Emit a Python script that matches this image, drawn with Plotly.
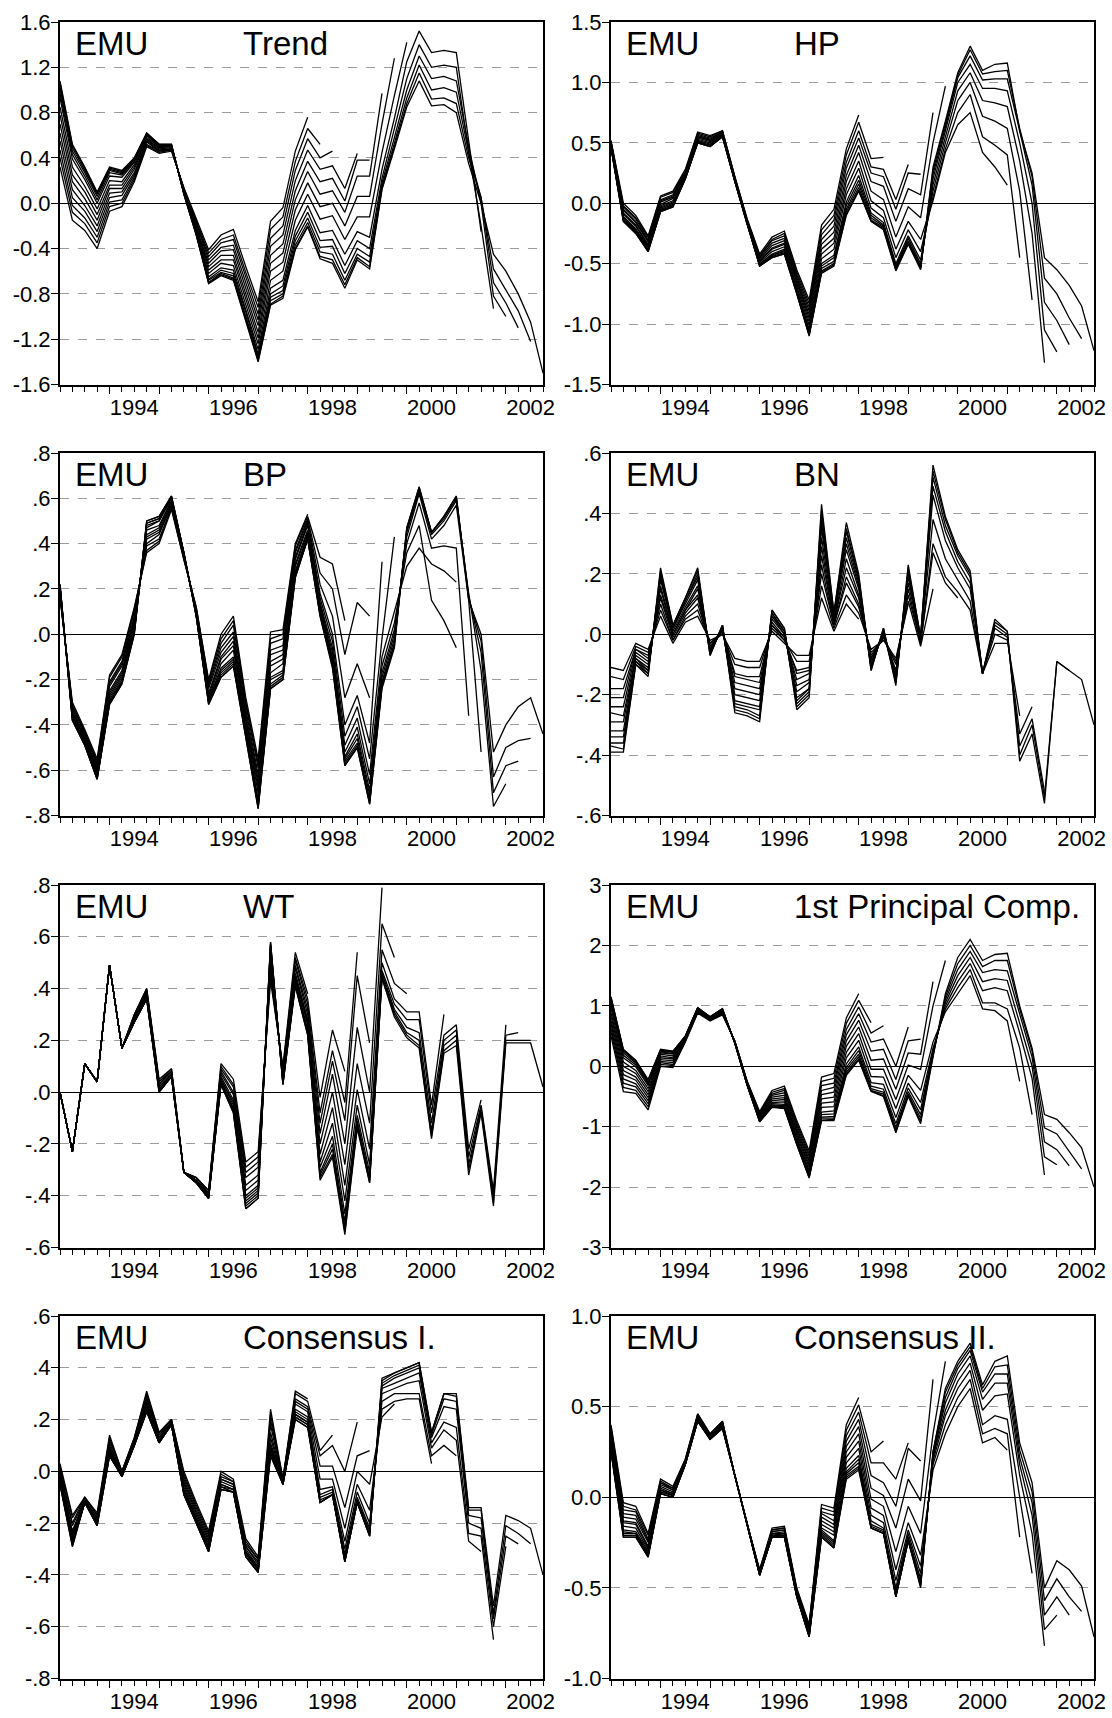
import plotly.graph_objects as go

# ---------------- data ----------------
QUARTERS = [f"{y}Q{q}" for y in range(1993, 2003) for q in range(1, 5)]
YEAR_LABELS = ["1994", "1996", "1998", "2000", "2002"]
YEAR_STARTS = [f"{y}Q1" for y in range(1994, 2003)]

# each inner list = one real-time vintage, starting 1993Q1
TREND = [
    [.32,-.15,-.24,-.40,-.07,-.03,.19,.50,.44,.46,.14,-.14,-.41,-.28,-.23,-.56,-.87,-.16,-.04,.46,.76],
    [.40,-.08,-.18,-.35,-.03,.00,.21,.51,.45,.47,.13,-.15,-.44,-.32,-.28,-.61,-.92,-.23,-.12,.37,.66,.52],
    [.47,-.02,-.13,-.30,.01,.03,.23,.52,.46,.47,.13,-.17,-.47,-.35,-.32,-.65,-.98,-.31,-.20,.29,.57,.40,.46],
    [.55,.05,-.07,-.25,.05,.07,.25,.54,.46,.48,.12,-.18,-.50,-.39,-.37,-.70,-1.03,-.38,-.28,.20,.47,.30,.33,.13,.44],
    [.62,.12,-.02,-.20,.09,.10,.27,.55,.47,.48,.12,-.20,-.53,-.42,-.41,-.75,-1.08,-.46,-.36,.11,.37,.19,.22,.02,.38,.38],
    [.70,.19,.04,-.15,.13,.13,.30,.56,.48,.49,.11,-.21,-.56,-.46,-.46,-.80,-1.14,-.53,-.44,.03,.28,.08,.11,-.08,.24,.24,.97],
    [.78,.25,.10,-.10,.16,.16,.32,.57,.49,.50,.10,-.22,-.59,-.50,-.50,-.84,-1.19,-.60,-.52,-.06,.18,-.03,.00,-.20,.06,.06,.70,1.28],
    [.85,.32,.15,-.05,.20,.19,.34,.58,.50,.50,.10,-.24,-.62,-.53,-.55,-.89,-1.24,-.68,-.60,-.15,.08,-.14,-.11,-.32,-.12,-.12,.45,.95,1.42],
    [.93,.39,.21,.00,.24,.23,.36,.60,.50,.51,.09,-.25,-.65,-.57,-.59,-.94,-1.29,-.75,-.68,-.24,-.02,-.26,-.24,-.45,-.25,-.30,.30,.75,1.25,1.52,1.33,1.35,1.33,.55,-.25],
    [.97,.43,.24,.03,.27,.25,.37,.60,.51,.51,.09,-.26,-.67,-.59,-.62,-.96,-1.33,-.80,-.73,-.29,-.08,-.33,-.32,-.55,-.33,-.40,.22,.65,1.10,1.40,1.20,1.22,1.20,.45,-.20,-.93],
    [1.01,.46,.27,.06,.29,.26,.38,.61,.51,.51,.09,-.27,-.68,-.61,-.64,-.99,-1.35,-.83,-.77,-.33,-.13,-.39,-.38,-.62,-.40,-.47,.18,.58,1.00,1.30,1.10,1.12,1.08,.50,.00,-.82,-1.00],
    [1.04,.49,.29,.08,.30,.27,.39,.61,.52,.52,.08,-.27,-.70,-.62,-.66,-1.01,-1.37,-.86,-.80,-.37,-.17,-.43,-.45,-.68,-.45,-.52,.15,.53,.93,1.22,1.00,1.02,.98,.45,.05,-.70,-.88,-1.10],
    [1.06,.51,.31,.09,.31,.28,.40,.62,.52,.52,.08,-.28,-.70,-.63,-.67,-1.02,-1.39,-.89,-.82,-.40,-.20,-.47,-.50,-.72,-.48,-.56,.13,.50,.88,1.15,.92,.93,.88,.40,.05,-.58,-.77,-.95,-1.22],
    [1.08,.52,.32,.10,.32,.29,.40,.62,.52,.52,.08,-.28,-.71,-.64,-.68,-1.03,-1.40,-.90,-.84,-.41,-.21,-.49,-.53,-.75,-.50,-.58,.12,.48,.85,1.08,.86,.87,.80,.35,.00,-.45,-.60,-.80,-1.05,-1.50],
]

HP = [
    [.52,.00,-.10,-.27,.06,.10,.28,.59,.56,.60,.22,-.13,-.42,-.28,-.23,-.55,-.80,-.18,-.05,.45,.73],
    [.51,-.02,-.12,-.28,.05,.09,.27,.58,.55,.60,.22,-.14,-.43,-.30,-.25,-.57,-.83,-.22,-.10,.40,.67,.37,.38],
    [.51,-.03,-.13,-.30,.03,.07,.26,.57,.54,.59,.21,-.14,-.44,-.31,-.27,-.59,-.86,-.26,-.14,.34,.60,.30,.28,.03,.32],
    [.50,-.05,-.15,-.31,.02,.06,.26,.56,.53,.59,.21,-.15,-.45,-.33,-.29,-.61,-.89,-.30,-.19,.29,.54,.25,.22,-.05,.25,.24],
    [.50,-.06,-.16,-.32,.01,.05,.25,.55,.52,.58,.20,-.15,-.46,-.35,-.31,-.63,-.92,-.34,-.24,.23,.48,.18,.14,-.15,.12,.07,.75],
    [.49,-.08,-.18,-.34,-.01,.04,.24,.55,.52,.58,.20,-.16,-.47,-.37,-.33,-.65,-.95,-.38,-.29,.18,.42,.10,.03,-.28,-.03,-.12,.50,.97],
    [.48,-.09,-.19,-.35,-.02,.02,.23,.54,.51,.57,.20,-.16,-.48,-.38,-.34,-.67,-.98,-.42,-.33,.12,.35,.02,-.06,-.38,-.15,-.30,.02,.42,.65,.75,.42,.30,.15],
    [.48,-.11,-.21,-.36,-.03,.01,.22,.53,.50,.57,.19,-.17,-.49,-.40,-.36,-.69,-1.01,-.46,-.38,.07,.29,-.04,-.12,-.45,-.22,-.40,.05,.45,.75,.90,.55,.48,.40,-.45],
    [.47,-.12,-.22,-.37,-.04,.00,.22,.52,.49,.56,.19,-.17,-.50,-.42,-.38,-.71,-1.04,-.50,-.43,.01,.23,-.08,-.16,-.50,-.27,-.47,.10,.50,.85,1.00,.72,.68,.62,.10,-.80],
    [.47,-.13,-.23,-.38,-.05,-.01,.21,.51,.48,.56,.19,-.17,-.51,-.43,-.39,-.72,-1.06,-.52,-.45,-.02,.19,-.10,-.18,-.52,-.29,-.50,.15,.55,.93,1.08,.85,.83,.80,.35,-.25,-1.32],
    [.47,-.14,-.24,-.39,-.06,-.02,.21,.51,.48,.56,.18,-.18,-.51,-.43,-.40,-.73,-1.07,-.54,-.48,-.05,.16,-.12,-.19,-.53,-.31,-.52,.20,.60,1.00,1.15,.95,.95,.93,.50,.00,-1.05,-1.23],
    [.46,-.14,-.24,-.39,-.06,-.02,.20,.50,.47,.55,.18,-.18,-.52,-.44,-.41,-.74,-1.09,-.56,-.50,-.07,.13,-.14,-.20,-.54,-.32,-.53,.24,.63,1.04,1.22,1.02,1.03,1.03,.60,.15,-.82,-.97,-1.17],
    [.46,-.15,-.25,-.40,-.07,-.03,.20,.50,.47,.55,.18,-.18,-.52,-.45,-.42,-.75,-1.09,-.57,-.51,-.09,.11,-.15,-.21,-.55,-.33,-.54,.27,.66,1.06,1.27,1.07,1.09,1.10,.62,.22,-.62,-.75,-.95,-1.12],
    [.46,-.15,-.25,-.40,-.07,-.03,.20,.50,.47,.55,.18,-.18,-.52,-.45,-.42,-.75,-1.10,-.58,-.52,-.10,.10,-.15,-.22,-.56,-.34,-.55,.30,.68,1.08,1.30,1.10,1.15,1.16,.60,.25,-.45,-.55,-.68,-.85,-1.22],
]

BP = [
    [.16,-.30,-.42,-.55,-.18,-.09,.12,.36,.40,.55,.33,.12,-.20,.00,.08,-.28,-.55,.01,.02,.40,.53],
    [.17,-.31,-.43,-.56,-.19,-.10,.11,.37,.41,.56,.33,.12,-.21,-.02,.06,-.30,-.57,-.02,.00,.39,.52,.34,.31,.06],
    [.17,-.32,-.43,-.57,-.21,-.12,.10,.39,.42,.56,.34,.11,-.22,-.04,.04,-.31,-.59,-.04,-.02,.37,.51,.27,.20,-.09,.14,.08],
    [.18,-.32,-.44,-.58,-.22,-.13,.08,.40,.44,.57,.34,.11,-.23,-.06,.01,-.33,-.62,-.07,-.05,.36,.50,.22,.08,-.28,-.13,-.28],
    [.18,-.33,-.45,-.59,-.23,-.14,.07,.42,.45,.57,.34,.10,-.24,-.08,-.01,-.35,-.64,-.09,-.07,.34,.49,.18,.00,-.40,-.27,-.48,.32],
    [.19,-.34,-.46,-.60,-.25,-.16,.06,.43,.46,.58,.35,.10,-.26,-.10,-.03,-.37,-.66,-.12,-.09,.33,.48,.16,-.03,-.45,-.32,-.55,-.02,.43],
    [.20,-.35,-.46,-.60,-.26,-.17,.05,.44,.47,.59,.35,.10,-.27,-.11,-.05,-.38,-.68,-.14,-.11,.31,.46,.14,-.06,-.49,-.37,-.62,-.10,.10,.30,.38,.31,.28,.23],
    [.20,-.36,-.47,-.61,-.27,-.18,.04,.46,.48,.59,.35,.09,-.28,-.13,-.07,-.40,-.70,-.17,-.13,.30,.45,.13,-.08,-.52,-.41,-.66,-.14,.05,.36,.48,.15,.06,-.06],
    [.21,-.36,-.48,-.62,-.28,-.19,.02,.47,.50,.60,.35,.09,-.29,-.15,-.10,-.42,-.73,-.19,-.16,.28,.44,.12,-.10,-.54,-.44,-.69,-.17,.02,.40,.58,.38,.39,.38,-.36],
    [.21,-.37,-.48,-.63,-.29,-.20,.02,.48,.50,.60,.36,.09,-.29,-.16,-.11,-.43,-.74,-.20,-.17,.27,.43,.11,-.11,-.55,-.46,-.71,-.19,.00,.43,.62,.42,.48,.57,.15,-.52],
    [.21,-.37,-.48,-.63,-.30,-.21,.01,.49,.51,.60,.36,.08,-.30,-.17,-.12,-.43,-.75,-.22,-.18,.26,.43,.10,-.12,-.56,-.48,-.73,-.21,-.02,.45,.63,.44,.50,.59,.18,-.16,-.76,-.66],
    [.22,-.38,-.49,-.64,-.30,-.21,.01,.49,.51,.61,.36,.08,-.30,-.18,-.13,-.44,-.76,-.23,-.19,.26,.42,.09,-.13,-.57,-.49,-.74,-.22,-.04,.46,.64,.45,.51,.60,.17,-.08,-.70,-.58,-.56],
    [.22,-.38,-.49,-.64,-.31,-.22,.00,.50,.52,.61,.36,.08,-.31,-.19,-.14,-.45,-.77,-.24,-.20,.25,.42,.08,-.14,-.58,-.50,-.75,-.23,-.05,.47,.65,.45,.52,.61,.16,-.03,-.63,-.50,-.47,-.46],
    [.22,-.38,-.49,-.64,-.31,-.22,.00,.50,.52,.61,.36,.08,-.31,-.19,-.14,-.45,-.77,-.24,-.20,.25,.42,.08,-.15,-.58,-.50,-.75,-.24,-.06,.47,.65,.45,.52,.61,.15,.00,-.52,-.40,-.32,-.28,-.44],
]

BN = [
    [-.11,-.12,-.03,-.05,.06,-.03,.04,.06,-.02,.00,-.08,-.09,-.09,.01,-.03,-.07,-.07,.12,.01,.10,.05],
    [-.14,-.15,-.04,-.06,.08,-.02,.05,.08,-.03,.00,-.10,-.11,-.11,.02,-.02,-.09,-.09,.16,.02,.13,.07,-.05,-.02],
    [-.18,-.18,-.05,-.07,.10,-.02,.06,.10,-.03,.01,-.13,-.14,-.14,.03,-.02,-.12,-.11,.20,.03,.17,.09,-.06,-.02,-.08,.10],
    [-.21,-.21,-.05,-.08,.12,-.01,.07,.12,-.04,.01,-.14,-.15,-.16,.03,-.01,-.13,-.12,.23,.03,.19,.10,-.07,-.01,-.09,.11,-.04,.15],
    [-.24,-.24,-.06,-.09,.13,.00,.08,.13,-.04,.01,-.16,-.17,-.18,.04,-.01,-.15,-.13,.26,.04,.22,.12,-.08,-.01,-.10,.13,-.03,.27,.17,.12],
    [-.26,-.27,-.07,-.10,.15,.00,.08,.15,-.05,.02,-.18,-.19,-.20,.05,.00,-.17,-.15,.29,.04,.25,.13,-.08,.00,-.12,.15,-.03,.30,.19,.14,.08,-.13],
    [-.29,-.29,-.08,-.11,.16,.01,.09,.16,-.05,.02,-.20,-.21,-.22,.06,.00,-.19,-.16,.32,.05,.28,.15,-.09,.00,-.13,.17,-.02,.38,.25,.18,.11,-.13,-.03,-.03],
    [-.32,-.32,-.08,-.12,.18,.02,.10,.18,-.06,.02,-.22,-.23,-.24,.06,.01,-.21,-.18,.35,.06,.30,.16,-.10,.01,-.14,.19,-.02,.46,.31,.22,.15,-.13,.00,-.02,-.27],
    [-.34,-.34,-.09,-.12,.19,.02,.11,.19,-.06,.02,-.23,-.24,-.25,.07,.01,-.22,-.18,.37,.06,.32,.17,-.11,.01,-.15,.20,-.02,.49,.34,.24,.17,-.13,.02,-.01,-.33,-.24],
    [-.36,-.36,-.09,-.13,.20,.02,.11,.20,-.06,.03,-.24,-.25,-.27,.07,.01,-.23,-.19,.39,.06,.34,.18,-.11,.01,-.16,.21,-.01,.52,.36,.26,.19,-.13,.03,.00,-.37,-.28,-.52],
    [-.37,-.38,-.10,-.13,.21,.03,.12,.21,-.07,.03,-.25,-.26,-.28,.08,.02,-.24,-.20,.41,.07,.35,.19,-.12,.02,-.16,.22,-.01,.54,.38,.27,.20,-.13,.04,.01,-.40,-.30,-.54,-.09,-.12],
    [-.39,-.39,-.10,-.14,.22,.03,.12,.22,-.07,.03,-.26,-.27,-.29,.08,.02,-.25,-.21,.43,.07,.37,.20,-.12,.02,-.17,.23,-.01,.56,.39,.28,.21,-.13,.05,.01,-.42,-.33,-.56,-.09,-.12,-.15,-.30],
]

WT = [
    [.00,-.23,.11,.04,.49,.17,.30,.40,.05,.09,-.31,-.33,-.38,.11,.05,-.27,-.23,.43,.10,.54,.38],
    [.00,-.23,.11,.04,.49,.17,.30,.40,.04,.09,-.31,-.33,-.38,.10,.03,-.29,-.25,.45,.09,.52,.36,-.02,.24,.08],
    [.00,-.23,.11,.04,.49,.17,.29,.39,.04,.08,-.31,-.33,-.39,.09,.02,-.31,-.27,.47,.08,.51,.34,-.08,.16,-.04,.54],
    [.00,-.23,.11,.04,.49,.17,.29,.39,.03,.08,-.31,-.34,-.39,.08,.00,-.33,-.29,.48,.08,.49,.32,-.12,.12,-.11,.45,.19],
    [.00,-.23,.11,.04,.49,.17,.29,.38,.03,.08,-.31,-.34,-.39,.07,-.01,-.36,-.32,.50,.07,.48,.30,-.16,.07,-.20,.25,.00,.79],
    [.00,-.23,.11,.04,.49,.17,.28,.38,.02,.07,-.31,-.34,-.40,.06,-.03,-.38,-.34,.52,.06,.46,.28,-.20,.00,-.28,.11,-.12,.65,.52],
    [.00,-.23,.11,.04,.49,.17,.28,.37,.02,.07,-.31,-.34,-.40,.05,-.04,-.40,-.36,.54,.05,.45,.27,-.24,-.06,-.36,.01,-.22,.55,.42,.38],
    [.00,-.23,.11,.04,.49,.17,.28,.37,.01,.07,-.31,-.35,-.40,.05,-.05,-.41,-.37,.55,.05,.44,.26,-.27,-.12,-.42,-.05,-.28,.50,.36,.31,.31,-.05,.30],
    [.00,-.23,.11,.04,.49,.17,.27,.37,.01,.06,-.31,-.35,-.41,.04,-.06,-.42,-.38,.56,.04,.43,.24,-.29,-.17,-.47,-.09,-.31,.47,.34,.28,.28,-.08,.22,.26,-.22,-.03],
    [.00,-.23,.11,.04,.49,.17,.27,.36,.01,.06,-.31,-.35,-.41,.04,-.07,-.43,-.39,.57,.04,.42,.24,-.31,-.20,-.50,-.11,-.33,.46,.32,.25,.23,-.12,.20,.24,-.25,-.05,-.38,.26],
    [.00,-.23,.11,.04,.49,.17,.27,.36,.00,.06,-.31,-.35,-.41,.03,-.07,-.44,-.40,.57,.03,.42,.23,-.32,-.22,-.52,-.12,-.34,.45,.31,.23,.20,-.15,.18,.22,-.28,-.06,-.40,.22,.23],
    [.00,-.23,.11,.04,.49,.17,.27,.36,.00,.06,-.31,-.35,-.41,.03,-.08,-.45,-.41,.58,.03,.41,.22,-.33,-.24,-.54,-.13,-.35,.44,.30,.22,.18,-.17,.16,.20,-.30,-.07,-.42,.20,.20,.20],
    [.00,-.23,.11,.04,.49,.17,.27,.36,.00,.06,-.31,-.35,-.41,.03,-.08,-.45,-.41,.58,.03,.41,.22,-.34,-.25,-.55,-.14,-.35,.44,.29,.21,.17,-.18,.15,.18,-.32,-.08,-.44,.19,.19,.19,.02],
]

PC = [
    [.50,-.42,-.45,-.72,.00,-.02,.40,.88,.75,.85,.42,-.25,-.75,-.40,-.33,-.90,-1.40,-.18,-.12,.80,1.20],
    [.57,-.35,-.40,-.67,.03,.01,.41,.89,.76,.86,.42,-.26,-.77,-.43,-.37,-.94,-1.45,-.25,-.20,.71,1.09,.72],
    [.63,-.28,-.34,-.62,.06,.03,.42,.90,.76,.87,.41,-.26,-.78,-.46,-.40,-.98,-1.49,-.32,-.28,.61,.98,.55,.67],
    [.70,-.21,-.29,-.57,.08,.06,.43,.91,.77,.88,.41,-.27,-.80,-.48,-.44,-1.02,-1.54,-.40,-.35,.52,.87,.40,.45,.00,.65],
    [.76,-.14,-.23,-.52,.11,.09,.44,.92,.78,.89,.40,-.28,-.82,-.51,-.48,-1.06,-1.58,-.47,-.43,.42,.76,.25,.28,-.22,.42,.45],
    [.83,-.07,-.18,-.47,.14,.12,.45,.93,.79,.90,.40,-.29,-.84,-.54,-.52,-1.10,-1.63,-.54,-.51,.33,.65,.10,.12,-.38,.22,.20,1.40],
    [.89,.00,-.12,-.42,.17,.14,.46,.93,.79,.91,.40,-.29,-.85,-.57,-.55,-1.14,-1.67,-.61,-.59,.23,.54,-.05,-.05,-.55,.02,-.05,1.00,1.75],
    [.96,.07,-.07,-.37,.20,.17,.47,.94,.80,.92,.39,-.30,-.87,-.60,-.59,-1.18,-1.72,-.68,-.67,.14,.43,-.17,-.18,-.70,-.15,-.40,.40,.90,1.20,1.50,.95,.92,.75,-.25],
    [1.02,.14,-.01,-.32,.22,.20,.48,.95,.81,.93,.39,-.31,-.89,-.62,-.63,-1.22,-1.76,-.76,-.74,.04,.32,-.27,-.30,-.85,-.28,-.60,.30,.95,1.30,1.60,1.05,1.05,.95,.30,-.80],
    [1.06,.18,.02,-.29,.24,.21,.49,.96,.81,.94,.39,-.31,-.90,-.64,-.65,-1.24,-1.79,-.80,-.79,-.02,.26,-.33,-.38,-.95,-.36,-.72,.25,1.00,1.40,1.70,1.25,1.30,1.25,.55,-.20,-1.80],
    [1.09,.22,.05,-.27,.25,.23,.49,.96,.81,.94,.38,-.31,-.90,-.65,-.67,-1.26,-1.81,-.84,-.83,-.06,.20,-.37,-.43,-1.01,-.42,-.80,.22,1.05,1.50,1.80,1.40,1.45,1.42,.70,.00,-1.50,-1.63],
    [1.12,.25,.07,-.25,.27,.24,.50,.97,.82,.95,.38,-.32,-.91,-.67,-.68,-1.28,-1.83,-.86,-.86,-.10,.16,-.40,-.46,-1.05,-.46,-.86,.20,1.10,1.60,1.90,1.55,1.60,1.58,.85,.15,-1.25,-1.38,-1.65],
    [1.14,.27,.09,-.23,.27,.24,.50,.97,.82,.95,.38,-.32,-.92,-.67,-.69,-1.29,-1.84,-.89,-.88,-.13,.12,-.41,-.49,-1.08,-.48,-.91,.17,1.15,1.70,2.00,1.65,1.75,1.75,.95,.25,-1.02,-1.12,-1.40,-1.70],
    [1.15,.28,.10,-.22,.28,.25,.50,.97,.82,.95,.38,-.32,-.92,-.68,-.70,-1.30,-1.85,-.90,-.90,-.15,.10,-.42,-.50,-1.10,-.50,-.95,.15,1.20,1.80,2.10,1.75,1.85,1.87,1.00,.30,-.80,-.88,-1.10,-1.35,-2.00],
]

CONS1 = [
    [.03,-.17,-.10,-.16,.14,.00,.13,.31,.15,.20,.00,-.12,-.23,.00,-.03,-.26,-.33,.24,-.03,.31,.28],
    [.02,-.18,-.10,-.17,.13,.00,.13,.30,.15,.20,-.01,-.13,-.24,-.01,-.04,-.27,-.34,.22,-.03,.30,.27,.08,.14],
    [.01,-.20,-.10,-.17,.12,.00,.12,.29,.14,.20,-.02,-.14,-.25,-.02,-.04,-.28,-.34,.20,-.03,.28,.25,.06,.10,.00,.19],
    [.00,-.21,-.11,-.18,.11,-.01,.12,.28,.14,.19,-.03,-.15,-.26,-.03,-.05,-.29,-.35,.18,-.04,.27,.24,.02,.02,-.14,.06,.08],
    [-.01,-.23,-.11,-.18,.10,-.01,.12,.27,.13,.19,-.04,-.16,-.27,-.03,-.05,-.29,-.36,.15,-.04,.26,.23,-.03,-.03,-.22,.00,-.05,.21,.26],
    [-.02,-.24,-.11,-.19,.09,-.01,.11,.26,.13,.19,-.05,-.17,-.28,-.04,-.06,-.30,-.37,.13,-.04,.24,.21,-.07,-.06,-.27,-.05,-.15,.24,.27,.28,.28,.03],
    [-.03,-.25,-.11,-.19,.08,-.01,.11,.25,.12,.19,-.06,-.18,-.29,-.05,-.07,-.31,-.37,.11,-.04,.23,.20,-.09,-.07,-.30,-.08,-.20,.27,.30,.30,.30,.06,.10,.06],
    [-.03,-.26,-.12,-.20,.08,-.02,.11,.25,.12,.18,-.07,-.18,-.29,-.05,-.07,-.31,-.38,.10,-.05,.22,.19,-.10,-.08,-.32,-.10,-.22,.30,.32,.34,.35,.09,.16,.12,-.27,-.31],
    [-.04,-.27,-.12,-.20,.07,-.02,.10,.24,.12,.18,-.08,-.19,-.30,-.06,-.07,-.32,-.38,.09,-.05,.22,.19,-.11,-.09,-.33,-.11,-.23,.32,.34,.36,.38,.11,.19,.17,-.24,-.25,-.65],
    [-.04,-.28,-.12,-.20,.07,-.02,.10,.24,.11,.18,-.08,-.19,-.30,-.06,-.08,-.32,-.38,.08,-.05,.21,.18,-.12,-.09,-.34,-.12,-.24,.33,.36,.38,.40,.13,.25,.24,-.20,-.22,-.60,-.29],
    [-.05,-.28,-.12,-.21,.06,-.02,.10,.23,.11,.18,-.09,-.20,-.31,-.07,-.08,-.33,-.39,.07,-.05,.21,.18,-.12,-.09,-.35,-.12,-.25,.34,.37,.39,.41,.14,.28,.27,-.17,-.18,-.57,-.25,-.28],
    [-.05,-.29,-.12,-.21,.06,-.02,.10,.23,.11,.18,-.09,-.20,-.31,-.07,-.08,-.33,-.39,.06,-.05,.20,.17,-.12,-.09,-.35,-.12,-.25,.35,.38,.40,.42,.15,.30,.29,-.15,-.15,-.55,-.21,-.24,-.28],
    [-.05,-.29,-.12,-.21,.06,-.02,.10,.23,.11,.18,-.09,-.20,-.31,-.07,-.08,-.33,-.39,.06,-.05,.20,.17,-.12,-.09,-.35,-.12,-.25,.36,.38,.40,.42,.15,.30,.30,-.14,-.14,-.52,-.17,-.19,-.22,-.40],
]

CONS2 = [
    [.40,-.03,-.05,-.20,.10,.06,.21,.46,.35,.42,.12,-.15,-.40,-.17,-.16,-.50,-.70,-.04,-.06,.40,.55],
    [.39,-.05,-.07,-.21,.09,.05,.21,.46,.35,.42,.12,-.15,-.40,-.18,-.17,-.51,-.71,-.06,-.08,.37,.51,.25,.31],
    [.37,-.07,-.08,-.23,.08,.05,.20,.45,.34,.41,.12,-.15,-.41,-.18,-.17,-.51,-.71,-.08,-.10,.34,.47,.19,.19,.10,.30],
    [.36,-.09,-.10,-.24,.08,.04,.20,.45,.34,.41,.12,-.15,-.41,-.19,-.18,-.52,-.72,-.09,-.13,.31,.43,.12,.08,-.05,.27,.20],
    [.34,-.11,-.12,-.25,.07,.04,.20,.44,.34,.40,.12,-.15,-.41,-.19,-.18,-.52,-.73,-.11,-.15,.28,.39,.05,.01,-.17,.10,-.02,.65],
    [.33,-.13,-.14,-.27,.06,.03,.20,.44,.34,.40,.12,-.15,-.42,-.20,-.19,-.53,-.74,-.13,-.17,.25,.35,-.01,-.05,-.30,-.05,-.20,.35,.75],
    [.31,-.14,-.15,-.28,.05,.02,.19,.44,.33,.40,.12,-.15,-.42,-.20,-.20,-.53,-.74,-.15,-.19,.22,.31,-.06,-.10,-.40,-.14,-.32,.15,.35,.50,.60,.30,.33,.26],
    [.30,-.16,-.17,-.29,.04,.02,.19,.43,.33,.39,.12,-.15,-.42,-.21,-.20,-.54,-.75,-.17,-.21,.19,.27,-.10,-.14,-.46,-.18,-.38,.18,.40,.55,.65,.35,.38,.35,-.22],
    [.28,-.18,-.19,-.30,.04,.01,.19,.43,.33,.39,.12,-.15,-.42,-.21,-.21,-.54,-.76,-.18,-.24,.16,.23,-.13,-.17,-.50,-.20,-.42,.20,.45,.60,.70,.40,.45,.43,.00,-.42],
    [.27,-.19,-.20,-.31,.03,.01,.18,.43,.32,.39,.12,-.15,-.43,-.21,-.21,-.54,-.76,-.19,-.25,.14,.21,-.15,-.18,-.52,-.22,-.45,.22,.48,.64,.74,.48,.56,.57,.12,-.20,-.82],
    [.26,-.20,-.20,-.32,.03,.01,.18,.42,.32,.38,.12,-.15,-.43,-.22,-.21,-.55,-.76,-.20,-.26,.13,.19,-.16,-.19,-.54,-.23,-.47,.23,.52,.68,.78,.54,.63,.63,.18,-.10,-.73,-.65],
    [.26,-.21,-.21,-.32,.02,.00,.18,.42,.32,.38,.12,-.15,-.43,-.22,-.22,-.55,-.77,-.21,-.27,.12,.17,-.17,-.20,-.55,-.24,-.48,.24,.55,.71,.81,.58,.68,.68,.22,-.03,-.65,-.55,-.65],
    [.25,-.22,-.22,-.33,.02,.00,.18,.42,.32,.38,.12,-.15,-.43,-.22,-.22,-.55,-.77,-.22,-.28,.11,.16,-.17,-.20,-.55,-.24,-.49,.25,.58,.73,.83,.60,.72,.73,.26,.03,-.57,-.45,-.55,-.63],
    [.25,-.22,-.22,-.33,.02,.00,.18,.42,.32,.38,.12,-.15,-.43,-.22,-.22,-.55,-.77,-.22,-.28,.10,.15,-.17,-.20,-.55,-.24,-.50,.25,.60,.75,.85,.62,.75,.78,.30,.08,-.50,-.35,-.40,-.49,-.77],
]

TREND_YT = [-1.6, -1.2, -0.8, -0.4, 0.0, 0.4, 0.8, 1.2, 1.6]
TREND_YL = ["-1.6", "-1.2", "-0.8", "-0.4", "0.0", "0.4", "0.8", "1.2", "1.6"]
HP_YT = [-1.5, -1.0, -0.5, 0.0, 0.5, 1.0, 1.5]
HP_YL = ["-1.5", "-1.0", "-0.5", "0.0", "0.5", "1.0", "1.5"]
BP_YT = [-0.8, -0.6, -0.4, -0.2, 0.0, 0.2, 0.4, 0.6, 0.8]
BP_YL = ["-.8", "-.6", "-.4", "-.2", ".0", ".2", ".4", ".6", ".8"]
BN_YT = [-0.6, -0.4, -0.2, 0.0, 0.2, 0.4, 0.6]
BN_YL = ["-.6", "-.4", "-.2", ".0", ".2", ".4", ".6"]
WT_YT = [-0.6, -0.4, -0.2, 0.0, 0.2, 0.4, 0.6, 0.8]
WT_YL = ["-.6", "-.4", "-.2", ".0", ".2", ".4", ".6", ".8"]
PC_YT = [-3, -2, -1, 0, 1, 2, 3]
PC_YL = ["-3", "-2", "-1", "0", "1", "2", "3"]
C1_YT = [-0.8, -0.6, -0.4, -0.2, 0.0, 0.2, 0.4, 0.6]
C1_YL = ["-.8", "-.6", "-.4", "-.2", ".0", ".2", ".4", ".6"]
C2_YT = [-1.0, -0.5, 0.0, 0.5, 1.0]
C2_YL = ["-1.0", "-0.5", "0.0", "0.5", "1.0"]

PANELS = [
    ("Trend", TREND, TREND_YT, TREND_YL),
    ("HP", HP, HP_YT, HP_YL),
    ("BP", BP, BP_YT, BP_YL),
    ("BN", BN, BN_YT, BN_YL),
    ("WT", WT, WT_YT, WT_YL),
    ("1st Principal Comp.", PC, PC_YT, PC_YL),
    ("Consensus I.", CONS1, C1_YT, C1_YL),
    ("Consensus II.", CONS2, C2_YT, C2_YL),
]

# ---------------- layout geometry ----------------
W, H = 1112, 1718
XDOM = [[60 / W, 543 / W], [611 / W, 1094 / W]]
ROW_TOP = [22, 453, 885, 1316]
PANEL_H = 362.5
YDOM = [[1 - (t + PANEL_H) / H, 1 - t / H] for t in ROW_TOP]
FONT = "Liberation Sans, Arial, Helvetica, sans-serif"
TICK_SIZE = 22

label_quarters = {f"{y}Q3": y for y in YEAR_LABELS}
x_ticktext = [label_quarters.get(q, "") for q in QUARTERS]
year_pos = [QUARTERS.index(q) for q in YEAR_STARTS]
last = len(QUARTERS) - 1


def ax_id(letter, n):
    return letter if n == 1 else f"{letter}{n}"


def ax_key(letter, n):
    return f"{letter}axis" if n == 1 else f"{letter}axis{n}"


fig = go.Figure()
layout = dict(
    width=W, height=H, autosize=False,
    margin=dict(l=0, r=0, t=0, b=0, pad=0),
    template="none",
    paper_bgcolor="white", plot_bgcolor="white",
    showlegend=False, hovermode=False,
    font=dict(family=FONT, size=TICK_SIZE, color="black"),
)
annotations = []

for p, (name, vintages, yt, yl) in enumerate(PANELS, start=1):
    col = (p - 1) % 2
    row = (p - 1) // 2
    xa, ya = ax_id("x", p), ax_id("y", p)
    xo = ax_id("x", p + 8)
    for v in vintages:
        fig.add_trace(go.Scatter(
            x=QUARTERS[:len(v)], y=v, mode="lines",
            line=dict(color="black", width=1.3),
            xaxis=xa, yaxis=ya, hoverinfo="skip",
        ))
    # empty helper trace for the year-tick overlay axis
    fig.add_trace(go.Scatter(x=[None], y=[None], mode="lines",
                             xaxis=xo, yaxis=ya, hoverinfo="skip"))

    layout[ax_key("x", p)] = dict(
        domain=XDOM[col], anchor=ya, type="category",
        categoryorder="array", categoryarray=QUARTERS,
        range=[0, last], tickmode="array", tickvals=QUARTERS, ticktext=x_ticktext,
        ticks="outside", ticklen=5, tickwidth=1, tickcolor="black",
        tickangle=0, tickfont=dict(size=TICK_SIZE, family=FONT), ticklabelstandoff=-3,
        showline=True, linecolor="black", linewidth=2, mirror=True,
        showgrid=False, zeroline=False, automargin=False,
    )
    layout[ax_key("x", p + 8)] = dict(
        overlaying=xa, anchor=ya, side="bottom", type="linear",
        range=[0, last], tickmode="array", tickvals=year_pos,
        ticks="outside", ticklen=8, tickwidth=1.2, tickcolor="black",
        showticklabels=False, showgrid=False, zeroline=False, showline=False,
        automargin=False,
    )
    layout[ax_key("y", p)] = dict(
        domain=YDOM[row], anchor=xa, range=[yt[0], yt[-1]],
        tickmode="array", tickvals=yt, ticktext=yl,
        ticks="outside", ticklen=7, tickwidth=1, tickcolor="black",
        tickfont=dict(size=TICK_SIZE, family=FONT), ticklabelstandoff=-4,
        showgrid=True, gridcolor="#9c9c9c", gridwidth=1, griddash="dash",
        zeroline=True, zerolinecolor="black", zerolinewidth=1.2,
        showline=True, linecolor="black", linewidth=2, mirror=True,
        automargin=False,
    )
    ty = 1 - 21 / PANEL_H
    annotations.append(dict(text="EMU", xref=f"{xa} domain", yref=f"{ya} domain",
                            x=13 / 483, y=ty, xanchor="left", yanchor="middle",
                            showarrow=False, font=dict(size=33, family=FONT, color="black")))
    annotations.append(dict(text=name, xref=f"{xa} domain", yref=f"{ya} domain",
                            x=181 / 483, y=ty, xanchor="left", yanchor="middle",
                            showarrow=False, font=dict(size=33, family=FONT, color="black")))

layout["annotations"] = annotations
fig.update_layout(**layout)
fig.write_html("out.html")
